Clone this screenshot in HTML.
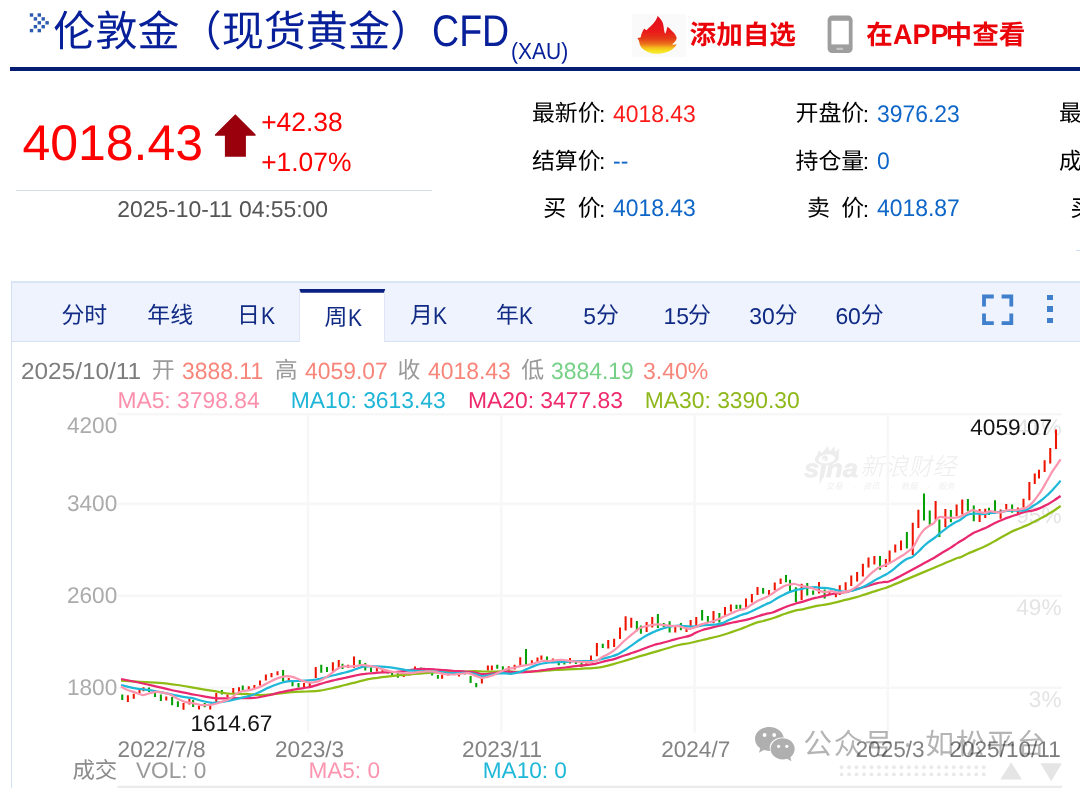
<!DOCTYPE html>
<html lang="zh-CN"><head><meta charset="utf-8"><title>伦敦金（现货黄金）CFD (XAU)</title>
<style>
html,body{margin:0;padding:0;background:#fff;}
body{width:1080px;height:788px;position:relative;overflow:hidden;font-family:"Liberation Sans",sans-serif;text-rendering:geometricPrecision;}
.c,.t,.b,.k{position:absolute;display:block;}
.h{position:absolute;left:0;top:-0.05em;white-space:nowrap;line-height:1.2;font-family:"Liberation Sans","Noto Sans CJK SC",sans-serif;}
.hb{font-weight:bold;}
.hl{font-weight:300;transform:skewX(-14deg);transform-origin:0 75%;}
.hs{transform:skewX(-14deg);transform-origin:0 75%;}
.c{overflow:visible;}
.t{line-height:1;white-space:nowrap;}
.g{opacity:.999;}
.b{margin:0;padding:0;}
</style></head><body>
<svg class="c" style="left:29px;top:12px" width="22" height="22" fill="#2c5bb0"><rect x="0.8" y="1.3" width="3.4" height="3.4"/><rect x="8.6" y="1.3" width="3.4" height="3.4"/><rect x="4.7" y="5.2" width="3.4" height="3.4"/><rect x="12.5" y="5.2" width="3.4" height="3.4"/><rect x="8.6" y="9.1" width="3.4" height="3.4"/><rect x="16.4" y="9.1" width="3.4" height="3.4"/><rect x="4.7" y="13.0" width="3.4" height="3.4"/><rect x="12.5" y="13.0" width="3.4" height="3.4"/><rect x="0.8" y="16.9" width="3.4" height="3.4"/><rect x="8.6" y="16.9" width="3.4" height="3.4"/></svg>
<span class="k" style="left:53.30px;top:8.81px;width:378.90px;height:50.52px;font-size:42.10px;color:#07209a;"><span class="h">伦敦金（现货黄金）</span></span>
<span class="t" style="top:9.70px;font-size:44.30px;color:#07209a;left:432.20px;transform:scaleX(0.848);transform-origin:0 0;">CFD</span>
<span class="t" style="top:40.39px;font-size:23.40px;color:#07209a;left:511.20px;transform:scaleX(0.897);transform-origin:0 0;">(XAU)</span>
<div class="b" style="left:10.40px;top:67.00px;width:1070.00px;height:3.80px;background:#061d73;"></div>
<div class="b" style="left:632.40px;top:13.50px;width:53.50px;height:43.70px;background:#fafafa;"></div>
<svg class="c" style="left:630px;top:10px" width="60" height="50" viewBox="630 10 60 50">
<defs><linearGradient id="fg" gradientUnits="userSpaceOnUse" x1="0" y1="16" x2="0" y2="54"><stop offset="0" stop-color="#e30f1c"/><stop offset="0.42" stop-color="#ea1a1a"/><stop offset="0.6" stop-color="#e43c18"/><stop offset="0.74" stop-color="#ec761c"/><stop offset="0.83" stop-color="#f5b81d"/><stop offset="0.92" stop-color="#f6e21f"/><stop offset="1" stop-color="#f8ea40"/></linearGradient></defs>
<path fill="url(#fg)" d="M657.6 16 C659.5 17.5 661 19.3 661.7 20.8 C663 23 663.4 25 663.6 26.5 C663.9 29.5 664.3 32.4 665.2 33.8 C666.2 32.5 666.7 29.4 667.4 26.8 C668.8 27.6 670.1 29 671.2 30.3 C673 32 674.8 33.7 675.7 35.4 C676.5 36.6 676.9 37.7 676.6 38.5 C676.3 40 675.4 41.4 674.4 42.3 C673.6 43.2 672.6 44.2 671.9 44.6 C673.6 44.8 675.3 44.6 676.6 44.2 C676 45.8 675 47 673.8 48 C671.8 50 668.8 51.6 665.5 52.5 C663 53.3 660 53.8 657.3 53.8 C654 53.8 650.6 53.1 647.8 51.9 C645.3 50.8 643 49.3 641.4 47.4 C640.3 46.1 639.7 44.5 639.5 43 C639.2 41 638.4 39.3 637.3 37.9 C638.6 37.9 639.8 37.7 640.8 37.3 C640.8 35.7 641.3 34.2 642 32.8 C642.6 31.2 643.4 29.7 644.3 28.4 C645 29 645.8 29.7 646.5 30.3 C647.8 28.7 649.4 27.3 650.9 25.9 C652.6 24.3 654.2 22.7 655.4 20.8 C656.4 19.3 657.2 17.7 657.6 16 Z"/></svg>
<span class="k" style="left:689.60px;top:20.96px;width:106.40px;height:31.92px;font-size:26.60px;color:#ea0308;"><span class="h hb">添加自选</span></span>
<svg class="c" style="left:827px;top:15px" width="27" height="39" viewBox="0 0 27 39"><rect x="0.6" y="0.6" width="25" height="37.4" rx="4.5" fill="#9e9e9e"/><rect x="4.4" y="5.8" width="17.4" height="23.6" fill="#fff"/><rect x="9.2" y="32.7" width="7" height="2.2" rx="1.1" fill="#c6c6c6"/></svg>
<span class="k" style="left:866.30px;top:20.96px;width:26.60px;height:31.92px;font-size:26.60px;color:#ea0308;"><span class="h hb">在</span></span>
<span class="t" style="top:21.16px;font-size:28.40px;color:#ea0308;font-weight:bold;left:892.80px;transform:scaleX(0.953);transform-origin:0 0;">APP</span>
<span class="k" style="left:945.60px;top:20.96px;width:79.80px;height:31.92px;font-size:26.60px;color:#ea0308;"><span class="h hb">中查看</span></span>
<span class="t" style="top:118.27px;font-size:50.00px;color:#ff0000;left:22.40px;">4018.43</span>
<svg class="c" style="left:214px;top:113px" width="44" height="46" viewBox="214 113 44 46"><path fill="#99000c" d="M235.3 114.2L255.6 134.6V135.8H245.9V156.7H224.9V135.8H215V134.6Z"/></svg>
<span class="t" style="top:109.05px;font-size:26.40px;color:#ff0000;left:261.20px;">+42.38</span>
<span class="t" style="top:148.65px;font-size:26.40px;color:#ff0000;left:261.20px;">+1.07%</span>
<div class="b" style="left:16.00px;top:190.10px;width:415.50px;height:1.20px;background:#d3dde8;"></div>
<span class="t" style="top:198.02px;font-size:22.90px;color:#555;left:117.20px;">2025-10-11 04:55:00</span>
<span class="k" style="left:531.90px;top:101.59px;width:68.70px;height:27.48px;font-size:22.90px;color:#000;"><span class="h">最新价</span></span>
<span class="t" style="top:102.82px;font-size:22.90px;color:#000;left:599.10px;">:</span>
<span class="t" style="top:102.58px;font-size:24.00px;color:#ff1a1a;left:613.10px;transform:scaleX(0.955);transform-origin:0 0;">4018.43</span>
<span class="k" style="left:531.90px;top:149.19px;width:68.70px;height:27.48px;font-size:22.90px;color:#000;"><span class="h">结算价</span></span>
<span class="t" style="top:150.42px;font-size:22.90px;color:#000;left:599.10px;">:</span>
<span class="t" style="top:150.18px;font-size:24.00px;color:#0d66c8;left:613.10px;transform:scaleX(0.955);transform-origin:0 0;">--</span>
<span class="k" style="left:531.90px;top:196.39px;width:68.70px;height:27.48px;font-size:22.90px;color:#000;"><span class="h" style="padding-left:0.5em;word-spacing:0.222em;">买 价</span></span>
<span class="t" style="top:197.62px;font-size:22.90px;color:#000;left:599.10px;">:</span>
<span class="t" style="top:197.38px;font-size:24.00px;color:#0d66c8;left:613.10px;transform:scaleX(0.955);transform-origin:0 0;">4018.43</span>
<span class="k" style="left:795.50px;top:101.59px;width:68.70px;height:27.48px;font-size:22.90px;color:#000;"><span class="h">开盘价</span></span>
<span class="t" style="top:102.82px;font-size:22.90px;color:#000;left:862.70px;">:</span>
<span class="t" style="top:102.58px;font-size:24.00px;color:#0d66c8;left:876.70px;transform:scaleX(0.955);transform-origin:0 0;">3976.23</span>
<span class="k" style="left:795.50px;top:149.19px;width:68.70px;height:27.48px;font-size:22.90px;color:#000;"><span class="h">持仓量</span></span>
<span class="t" style="top:150.42px;font-size:22.90px;color:#000;left:862.70px;">:</span>
<span class="t" style="top:150.18px;font-size:24.00px;color:#0d66c8;left:876.70px;transform:scaleX(0.955);transform-origin:0 0;">0</span>
<span class="k" style="left:795.50px;top:196.39px;width:68.70px;height:27.48px;font-size:22.90px;color:#000;"><span class="h" style="padding-left:0.5em;word-spacing:0.222em;">卖 价</span></span>
<span class="t" style="top:197.62px;font-size:22.90px;color:#000;left:862.70px;">:</span>
<span class="t" style="top:197.38px;font-size:24.00px;color:#0d66c8;left:876.70px;transform:scaleX(0.955);transform-origin:0 0;">4018.87</span>
<span class="k" style="left:1059.10px;top:101.59px;width:68.70px;height:27.48px;font-size:22.90px;color:#000;"><span class="h">最高价</span></span>
<span class="t" style="top:102.82px;font-size:22.90px;color:#000;left:1126.30px;">:</span>
<span class="t" style="top:102.58px;font-size:24.00px;color:#0d66c8;left:1140.30px;transform:scaleX(0.955);transform-origin:0 0;">4059.07</span>
<span class="k" style="left:1059.10px;top:149.19px;width:68.70px;height:27.48px;font-size:22.90px;color:#000;"><span class="h">成交量</span></span>
<span class="t" style="top:150.42px;font-size:22.90px;color:#000;left:1126.30px;">:</span>
<span class="t" style="top:150.18px;font-size:24.00px;color:#0d66c8;left:1140.30px;transform:scaleX(0.955);transform-origin:0 0;">0</span>
<span class="k" style="left:1059.10px;top:196.39px;width:68.70px;height:27.48px;font-size:22.90px;color:#000;"><span class="h" style="padding-left:0.5em;word-spacing:0.222em;">买 量</span></span>
<span class="t" style="top:197.62px;font-size:22.90px;color:#000;left:1126.30px;">:</span>
<span class="t" style="top:197.38px;font-size:24.00px;color:#0d66c8;left:1140.30px;transform:scaleX(0.955);transform-origin:0 0;">0</span>
<div class="b" style="left:1076.00px;top:249.60px;width:4.00px;height:1.20px;background:#c9dcf0;"></div>
<div class="b" style="left:10.70px;top:280.90px;width:1070.00px;height:1.70px;background:#d9e4f5;"></div>
<div class="b" style="left:10.70px;top:280.90px;width:1.70px;height:520.00px;background:#d2e0f4;"></div>
<div class="b" style="left:12.40px;top:282.60px;width:1068.00px;height:58.20px;background:#eef3fd;"></div>
<div class="b" style="left:12.40px;top:340.50px;width:1068.00px;height:1.50px;background:#d6e1f4;"></div>
<div class="b" style="left:299.40px;top:289.00px;width:85.80px;height:53.00px;background:#fff;border-left:1.3px solid #dfe6f6;border-right:1.3px solid #dfe6f6;box-sizing:border-box;"></div>
<svg class="c" style="left:299px;top:288px" width="88" height="6" viewBox="299 288 88 6"><path fill="#0a2182" d="M299.4 289H385.2L383.9 292.8H300.7Z"/></svg>
<span class="k" style="left:61.40px;top:303.59px;width:45.80px;height:27.48px;font-size:22.90px;color:#112b85;"><span class="h">分时</span></span>
<span class="k" style="left:147.30px;top:303.59px;width:45.80px;height:27.48px;font-size:22.90px;color:#112b85;"><span class="h">年线</span></span>
<span class="k" style="left:237.00px;top:303.59px;width:22.90px;height:27.48px;font-size:22.90px;color:#112b85;"><span class="h">日</span></span>
<span class="t" style="top:304.85px;font-size:24.40px;color:#112b85;left:260.70px;transform:scaleX(0.863);transform-origin:0 0;">K</span>
<span class="k" style="left:324.40px;top:305.59px;width:22.90px;height:27.48px;font-size:22.90px;color:#112b85;"><span class="h">周</span></span>
<span class="t" style="top:306.85px;font-size:24.40px;color:#112b85;left:347.50px;transform:scaleX(0.863);transform-origin:0 0;">K</span>
<span class="k" style="left:410.00px;top:303.59px;width:22.90px;height:27.48px;font-size:22.90px;color:#112b85;"><span class="h">月</span></span>
<span class="t" style="top:304.85px;font-size:24.40px;color:#112b85;left:433.30px;transform:scaleX(0.863);transform-origin:0 0;">K</span>
<span class="k" style="left:495.90px;top:303.59px;width:22.90px;height:27.48px;font-size:22.90px;color:#112b85;"><span class="h">年</span></span>
<span class="t" style="top:304.85px;font-size:24.40px;color:#112b85;left:519.20px;transform:scaleX(0.863);transform-origin:0 0;">K</span>
<span class="t" style="top:304.82px;font-size:22.90px;color:#112b85;left:583.20px;">5</span>
<span class="k" style="left:595.90px;top:303.59px;width:22.90px;height:27.48px;font-size:22.90px;color:#112b85;"><span class="h">分</span></span>
<span class="t" style="top:304.82px;font-size:22.90px;color:#112b85;left:663.60px;">15</span>
<span class="k" style="left:688.00px;top:303.59px;width:22.90px;height:27.48px;font-size:22.90px;color:#112b85;"><span class="h">分</span></span>
<span class="t" style="top:304.82px;font-size:22.90px;color:#112b85;left:749.30px;">30</span>
<span class="k" style="left:774.70px;top:303.59px;width:22.90px;height:27.48px;font-size:22.90px;color:#112b85;"><span class="h">分</span></span>
<span class="t" style="top:304.82px;font-size:22.90px;color:#112b85;left:835.40px;">60</span>
<span class="k" style="left:860.80px;top:303.59px;width:22.90px;height:27.48px;font-size:22.90px;color:#112b85;"><span class="h">分</span></span>
<svg class="c" style="left:980px;top:292px" width="36" height="36" viewBox="980 292 36 36" fill="none" stroke="#3f7fcc" stroke-width="3.8"><path d="M984 306.4V296.5H993.8M1001.6 296.5H1011.3V306.4M1011.3 313.4V323.2H1001.6M993.8 323.2H984V313.4"/></svg>
<div class="b" style="left:1047.30px;top:294.60px;width:6.10px;height:5.40px;background:#3f7fcc;"></div>
<div class="b" style="left:1047.30px;top:306.30px;width:6.10px;height:5.40px;background:#3f7fcc;"></div>
<div class="b" style="left:1047.30px;top:317.70px;width:6.10px;height:5.40px;background:#3f7fcc;"></div>
<span class="t" style="top:359.99px;font-size:23.40px;color:#7d7d7d;left:21.30px;transform:scaleX(1.042);transform-origin:0 0;">2025/10/11</span>
<span class="k" style="left:151.80px;top:358.39px;width:22.90px;height:27.48px;font-size:22.90px;color:#9a9a9a;"><span class="h">开</span></span>
<span class="t" style="top:359.91px;font-size:23.50px;color:#f8857a;left:182.40px;transform:scaleX(0.975);transform-origin:0 0;">3888.11</span>
<span class="k" style="left:274.80px;top:358.39px;width:22.90px;height:27.48px;font-size:22.90px;color:#9a9a9a;"><span class="h">高</span></span>
<span class="t" style="top:359.91px;font-size:23.50px;color:#f8857a;left:305.00px;transform:scaleX(0.975);transform-origin:0 0;">4059.07</span>
<span class="k" style="left:397.60px;top:358.39px;width:22.90px;height:27.48px;font-size:22.90px;color:#9a9a9a;"><span class="h">收</span></span>
<span class="t" style="top:359.91px;font-size:23.50px;color:#f8857a;left:427.80px;transform:scaleX(0.975);transform-origin:0 0;">4018.43</span>
<span class="k" style="left:521.20px;top:358.39px;width:22.90px;height:27.48px;font-size:22.90px;color:#9a9a9a;"><span class="h">低</span></span>
<span class="t" style="top:359.91px;font-size:23.50px;color:#76d086;left:551.20px;transform:scaleX(0.975);transform-origin:0 0;">3884.19</span>
<span class="t" style="top:359.99px;font-size:23.40px;color:#f8857a;left:642.80px;transform:scaleX(0.985);transform-origin:0 0;">3.40%</span>
<span class="t g" style="top:389.16px;font-size:22.85px;color:#fc8fab;left:117.40px;">MA5: 3798.84</span>
<span class="t g" style="top:389.16px;font-size:22.85px;color:#1fb5d6;left:290.80px;">MA10: 3613.43</span>
<span class="t g" style="top:389.16px;font-size:22.85px;color:#ee2a6b;left:468.00px;">MA20: 3477.83</span>
<span class="t g" style="top:389.16px;font-size:22.85px;color:#8fb81c;left:644.80px;">MA30: 3390.30</span>
<span class="t g" style="top:417.27px;font-size:22.60px;color:#e4e4e4;right:18.50px;">141%</span>
<span class="t g" style="top:505.27px;font-size:22.60px;color:#e4e4e4;right:18.50px;">95%</span>
<span class="t g" style="top:597.27px;font-size:22.60px;color:#e4e4e4;right:18.50px;">49%</span>
<span class="t g" style="top:689.07px;font-size:22.60px;color:#e4e4e4;right:18.50px;">3%</span>
<svg class="c" style="left:800px;top:440px" width="64" height="50" viewBox="800 440 64 50" fill="#ededed"><path d="M816 457.5L818.9 450.2L821.9 453.2L827.8 446L829.8 451.4L834.4 446.3L835 452L839.5 448.6L838.4 457Z"/><ellipse cx="826.9" cy="458.5" rx="12.1" ry="6.8" transform="rotate(-7 826.9 458.5)"/><ellipse cx="826.7" cy="458.9" rx="8.4" ry="4.5" transform="rotate(-7 826.7 458.9)" fill="#fff"/><circle cx="824.9" cy="458.4" r="2.9"/><circle cx="823.7" cy="459.7" r="1.1" fill="#fff"/></svg>
<span class="t g" style="top:457.24px;font-size:25.00px;color:#ededed;font-weight:bold;left:804.20px;transform:scaleX(1.1);transform-origin:0 0;font-style:italic;-webkit-text-stroke:0.6px #ededed;">s</span>
<svg class="c" style="left:815px;top:462px" width="14" height="24" viewBox="815 462 14 24" fill="#ededed"><path d="M821.2 465H826.6L824 476.5L819.3 484.8L819.8 475Z"/></svg>
<span class="t g" style="top:457.24px;font-size:25.00px;color:#ededed;font-weight:bold;left:826.00px;transform:scaleX(1.1);transform-origin:0 0;font-style:italic;-webkit-text-stroke:0.6px #ededed;">na</span>
<span class="k" style="left:860.20px;top:455.20px;width:96.00px;height:28.80px;font-size:24.00px;color:#ededed;"><span class="h hl">新浪财经</span></span>
<span class="k" style="left:826.00px;top:482.62px;width:16.40px;height:9.84px;font-size:8.20px;color:#efefef;"><span class="h hs">交易</span></span>
<span class="k" style="left:863.00px;top:482.62px;width:16.40px;height:9.84px;font-size:8.20px;color:#efefef;"><span class="h hs">资讯</span></span>
<span class="k" style="left:900.50px;top:482.62px;width:16.40px;height:9.84px;font-size:8.20px;color:#efefef;"><span class="h hs">数据</span></span>
<span class="k" style="left:937.50px;top:482.62px;width:16.40px;height:9.84px;font-size:8.20px;color:#efefef;"><span class="h hs">服务</span></span>
<div class="b" style="left:853.50px;top:486.60px;width:1.30px;height:1.30px;background:#efefef;border-radius:1px;"></div>
<div class="b" style="left:890.50px;top:486.60px;width:1.30px;height:1.30px;background:#efefef;border-radius:1px;"></div>
<div class="b" style="left:928.00px;top:486.60px;width:1.30px;height:1.30px;background:#efefef;border-radius:1px;"></div>
<svg class="c" style="left:752px;top:724px" width="48" height="40" viewBox="752 724 48 40"><g transform="translate(0 -36.35) scale(1 1.05)"><path fill="#afafaf" d="M769.4 727C761.4 727 755 732 755 738.4C755 742 757 745.2 760.2 747.3L759 751.6L763.8 749C765.5 749.5 767.4 749.8 769.4 749.8C769.7 749.8 770 749.8 770.3 749.8C769.9 748.8 769.7 747.7 769.7 746.6C769.7 741.2 775.2 736.9 782 736.9C782.6 736.9 783.2 736.9 783.7 737C782.7 731.3 776.7 727 769.4 727Z"/><path fill="#afafaf" d="M782.6 737.7C776 737.7 770.6 742.2 770.6 747.8C770.6 753.4 776 757.9 782.6 757.9C784.2 757.9 785.7 757.6 787.1 757.2L791.4 759.6L790.4 755.8C793 754 794.7 751.1 794.7 747.8C794.7 742.2 789.3 737.7 782.6 737.7Z"/><g fill="#fff"><circle cx="764.6" cy="734.6" r="1.9"/><circle cx="774.2" cy="734.6" r="1.9"/><circle cx="778.6" cy="745.4" r="1.6"/><circle cx="786.8" cy="745.4" r="1.6"/></g></g></svg>
<svg class="c" style="left:0;top:0" width="1080" height="788" viewBox="0 0 1080 788" fill="#e9e9e9"><circle cx="841.60" cy="767.2" r="1.9"/><circle cx="841.60" cy="774.4" r="1.9"/><circle cx="849.08" cy="767.2" r="1.9"/><circle cx="849.08" cy="774.4" r="1.9"/><circle cx="856.56" cy="767.2" r="1.9"/><circle cx="856.56" cy="774.4" r="1.9"/><circle cx="864.04" cy="767.2" r="1.9"/><circle cx="864.04" cy="774.4" r="1.9"/><circle cx="871.52" cy="767.2" r="1.9"/><circle cx="871.52" cy="774.4" r="1.9"/><circle cx="879.00" cy="767.2" r="1.9"/><circle cx="879.00" cy="774.4" r="1.9"/><circle cx="886.48" cy="767.2" r="1.9"/><circle cx="886.48" cy="774.4" r="1.9"/><circle cx="893.96" cy="767.2" r="1.9"/><circle cx="893.96" cy="774.4" r="1.9"/><circle cx="901.44" cy="767.2" r="1.9"/><circle cx="901.44" cy="774.4" r="1.9"/><circle cx="908.92" cy="767.2" r="1.9"/><circle cx="908.92" cy="774.4" r="1.9"/><circle cx="916.40" cy="767.2" r="1.9"/><circle cx="916.40" cy="774.4" r="1.9"/><circle cx="923.88" cy="767.2" r="1.9"/><circle cx="923.88" cy="774.4" r="1.9"/><circle cx="931.36" cy="767.2" r="1.9"/><circle cx="931.36" cy="774.4" r="1.9"/><circle cx="938.84" cy="767.2" r="1.9"/><circle cx="938.84" cy="774.4" r="1.9"/><circle cx="946.32" cy="767.2" r="1.9"/><circle cx="946.32" cy="774.4" r="1.9"/><circle cx="953.80" cy="767.2" r="1.9"/><circle cx="953.80" cy="774.4" r="1.9"/><circle cx="961.28" cy="767.2" r="1.9"/><circle cx="961.28" cy="774.4" r="1.9"/><circle cx="968.76" cy="767.2" r="1.9"/><circle cx="968.76" cy="774.4" r="1.9"/><circle cx="976.24" cy="767.2" r="1.9"/><circle cx="976.24" cy="774.4" r="1.9"/><circle cx="983.72" cy="767.2" r="1.9"/><circle cx="983.72" cy="774.4" r="1.9"/><path fill="#e5e5e5" d="M1011.2 762.2L1021.9 779.6H1000.4Z M1040.4 763.2H1062L1051.2 781.2Z"/></svg>
<svg class="c" style="left:0;top:0" width="1080" height="788" viewBox="0 0 1080 788"><path d="M117.4 414.2H1062M117.4 503.9H1062M117.4 595.8H1062M117.4 687.7H1062M308.0 414V732.6M501.2 414V732.6M694.6 414V732.6M887.8 414V732.6" stroke="#f7f7f7" stroke-width="2.6" fill="none"/><rect x="117.4" y="785.7" width="944.6" height="2.4" fill="#ebebeb"/><path d="M127.88 695.2V701.9M133.75 693.8V698.8M139.50 689.8V693.1M143.50 687.2V691.2M166.25 696.5V700.6M183.50 703.1V709.8M189.38 698.8V704.4M199.00 705.6V709.4M210.25 705.6V709.4M216.25 693.1V701.9M227.50 694.4V696.9M233.25 688.1V693.1M239.00 687.2V691.9M248.75 686.2V689.4M254.38 685.0V688.5M260.00 680.6V685.6M265.88 674.6V680.6M271.50 672.9V677.2M277.50 671.2V675.2M288.75 678.1V681.0M304.00 683.1V687.5M309.75 682.5V686.5M315.75 666.9V678.1M332.88 662.2V671.0M338.75 660.0V667.5M348.12 664.8V668.1M354.00 656.5V668.1M376.88 668.1V671.5M382.50 669.4V671.9M403.75 674.4V676.9M409.38 673.5V675.6M415.00 666.6V669.8M442.12 674.8V678.8M448.25 673.1V675.6M453.75 671.9V674.4M459.00 674.4V676.5M481.88 678.8V683.5M487.88 665.6V670.6M491.88 665.6V670.2M508.75 666.2V671.2M514.62 664.8V669.4M520.25 657.2V665.6M531.88 660.2V664.4M537.50 657.5V661.9M541.38 655.6V659.8M552.88 658.4V661.9M570.00 658.1V663.5M586.38 661.2V663.8M591.00 655.6V660.6M596.88 643.1V656.2M608.25 640.0V648.5M614.12 638.8V646.9M620.00 627.5V639.0M625.62 616.2V630.6M631.25 617.8V627.8M646.62 621.9V631.9M652.25 616.9V627.5M675.25 626.2V632.5M686.50 627.5V631.9M690.62 620.0V626.2M696.25 616.9V625.6M713.50 611.0V623.1M725.00 606.9V616.2M730.88 604.4V611.5M746.00 598.4V608.1M751.88 594.0V602.5M757.50 586.9V595.0M769.00 590.0V595.0M774.75 582.5V590.2M780.62 578.5V584.0M801.62 583.8V600.2M819.00 581.9V593.5M829.50 591.5V594.8M835.88 591.9V597.2M839.75 585.2V595.0M845.62 582.2V590.2M851.25 575.4V586.0M857.12 572.1V581.5M862.88 563.8V576.5M868.50 557.5V567.5M874.38 556.0V564.4M885.88 559.0V566.9M889.62 550.6V562.8M895.25 544.4V552.5M901.00 540.6V550.2M912.75 522.8V555.0M918.38 509.8V528.1M935.62 501.0V519.8M945.38 509.0V527.2M956.62 504.4V516.2M962.25 499.6V514.4M979.62 509.0V521.9M985.25 508.8V517.9M1000.62 509.4V518.8M1006.25 504.1V509.4M1017.88 507.5V513.5M1023.50 498.8V507.5M1029.38 482.1V500.2M1034.75 473.5V484.0M1039.00 469.8V478.5M1044.62 460.2V471.9M1050.25 448.1V463.5M1056.00 429.4V449.0" stroke="#ee1500" stroke-width="2.05" fill="none"/><path d="M122.25 694.4V700.0M149.00 687.5V691.9M155.00 693.1V696.9M160.88 694.4V701.0M172.12 696.9V705.2M177.88 701.2V706.9M193.12 700.0V706.9M204.75 703.1V707.2M221.88 690.0V694.4M242.75 685.6V690.2M283.12 670.0V681.5M292.50 680.6V686.2M298.50 683.1V687.5M321.25 664.8V672.8M327.00 666.9V671.9M342.50 663.8V669.0M359.75 660.0V664.8M365.25 663.1V670.6M371.00 667.5V671.9M388.12 670.6V673.5M392.12 672.5V675.0M397.88 673.1V677.8M420.88 667.5V670.0M426.12 671.2V673.8M432.12 673.1V675.6M437.88 675.0V678.8M464.75 671.9V674.4M470.62 676.0V683.1M476.25 683.1V687.2M497.25 664.8V668.8M502.88 666.2V670.0M526.00 649.0V664.8M547.00 656.5V662.2M558.75 659.8V665.2M564.38 661.2V664.4M575.88 661.9V664.0M581.50 663.1V666.9M602.75 643.8V648.1M636.88 621.0V631.2M640.88 625.6V633.8M657.88 614.0V627.9M663.75 623.1V626.9M669.62 621.2V632.5M680.88 623.1V630.2M702.12 610.0V620.6M707.88 616.0V621.9M719.38 613.1V622.5M736.50 604.8V609.0M740.25 604.8V610.0M763.12 588.1V593.8M786.00 575.0V582.2M790.00 579.8V591.0M795.88 587.2V601.9M807.25 583.1V595.6M813.12 590.6V594.8M824.62 589.4V598.5M880.00 556.0V569.8M906.88 531.9V548.5M924.00 493.5V520.6M929.75 510.4V524.8M939.38 519.4V536.9M950.88 510.0V522.2M967.88 499.0V511.2M973.75 505.6V521.2M989.00 507.8V515.0M995.00 500.2V511.0M1012.12 504.6V512.8" stroke="#04a004" stroke-width="2.05" fill="none"/><path d="M121.0 680.6C124.2 680.8 133.7 681.5 140.0 681.9C146.3 682.2 152.5 682.2 158.8 682.8C165.0 683.3 171.2 684.1 177.5 685.0C183.8 685.9 190.0 687.1 196.2 688.1C202.5 689.2 209.8 690.4 215.0 691.2C220.2 692.1 223.3 693.0 227.5 693.5C231.7 694.0 236.5 693.9 240.0 694.0C243.5 694.1 245.8 693.8 248.8 694.0C251.7 694.2 254.0 694.9 257.5 695.0C261.0 695.1 265.8 694.7 270.0 694.4C274.2 694.1 278.3 693.5 282.5 693.1C286.7 692.7 290.8 692.1 295.0 691.9C299.2 691.6 303.3 691.7 307.5 691.5C311.7 691.3 315.8 691.2 320.0 690.6C324.2 690.1 328.3 689.1 332.5 688.1C336.7 687.2 340.8 686.0 345.0 685.0C349.2 684.0 353.3 682.9 357.5 681.9C361.7 680.8 366.7 679.4 370.0 678.8C373.3 678.1 375.0 678.1 377.5 677.8C380.0 677.4 382.1 677.2 385.0 676.9C387.9 676.5 391.7 676.0 395.0 675.6C398.3 675.3 401.7 675.0 405.0 674.8C408.3 674.5 411.7 674.3 415.0 674.0C418.3 673.7 421.7 673.4 425.0 673.1C428.3 672.9 431.7 672.6 435.0 672.5C438.3 672.4 441.7 672.4 445.0 672.2C448.3 672.1 451.7 672.0 455.0 671.9C458.3 671.8 461.7 671.6 465.0 671.5C468.3 671.4 471.7 671.0 475.0 671.0C478.3 671.0 481.7 671.4 485.0 671.5C488.3 671.6 491.4 671.5 495.0 671.5C498.6 671.5 503.1 671.2 506.9 671.3C510.6 671.4 513.6 671.8 517.5 671.9C521.4 671.9 525.8 671.6 530.0 671.5C534.2 671.4 538.3 671.2 542.5 671.0C546.7 670.8 550.8 670.3 555.0 670.0C559.2 669.7 563.3 669.6 567.5 669.4C571.7 669.2 575.8 669.0 580.0 668.8C584.2 668.5 588.8 668.4 592.5 668.1C596.2 667.8 599.2 667.5 602.5 666.9C605.8 666.2 609.2 665.3 612.5 664.4C615.8 663.5 619.2 662.5 622.5 661.5C625.8 660.5 629.6 659.4 632.5 658.5C635.4 657.6 635.4 657.6 640.0 656.2C644.6 654.9 653.5 652.2 660.0 650.4C666.5 648.5 674.2 646.1 678.8 645.0C683.3 643.9 684.4 644.1 687.5 643.5C690.6 642.9 694.2 642.0 697.5 641.2C700.8 640.5 704.2 639.5 707.5 638.8C710.8 638.0 714.2 637.4 717.5 636.5C720.8 635.6 724.2 634.6 727.5 633.5C730.8 632.4 734.2 631.2 737.5 630.0C740.8 628.8 744.6 627.4 747.5 626.2C750.4 625.1 752.2 624.1 755.0 623.1C757.8 622.2 761.0 621.6 764.4 620.7C767.7 619.8 771.6 618.7 775.0 617.5C778.4 616.3 781.7 614.9 785.0 613.8C788.3 612.6 792.1 611.4 795.0 610.6C797.9 609.9 799.6 610.0 802.5 609.4C805.4 608.8 809.2 607.6 812.5 606.9C815.8 606.1 819.2 605.6 822.5 605.0C825.8 604.4 829.2 603.9 832.5 603.1C835.8 602.4 839.2 601.5 842.5 600.6C845.8 599.8 849.2 599.0 852.5 598.1C855.8 597.2 859.2 596.3 862.5 595.2C865.8 594.2 869.2 593.0 872.5 591.9C875.8 590.8 879.2 589.9 882.5 588.8C885.8 587.6 880.8 590.0 892.5 585.2C904.2 580.5 941.2 564.6 952.5 560.0C963.8 555.4 957.5 558.5 960.0 557.5C962.5 556.5 965.0 554.9 967.5 553.8C970.0 552.6 972.5 551.7 975.0 550.6C977.5 549.6 980.0 548.6 982.5 547.5C985.0 546.4 987.5 545.1 990.0 543.8C992.5 542.4 995.0 540.8 997.5 539.4C1000.0 538.0 1002.9 536.4 1005.0 535.2C1007.1 534.1 1008.0 533.5 1010.0 532.5C1012.0 531.5 1014.2 530.5 1016.9 529.4C1019.6 528.2 1023.4 526.9 1026.2 525.6C1029.1 524.4 1031.2 523.1 1033.8 521.9C1036.2 520.6 1038.8 519.5 1041.2 518.1C1043.8 516.8 1046.5 515.1 1048.8 513.8C1051.0 512.4 1053.0 511.3 1055.0 510.0C1057.0 508.7 1059.7 506.7 1060.6 506.0" stroke="#8fbc14" stroke-width="2.25" fill="none" stroke-linejoin="round" stroke-linecap="butt"/><path d="M121.0 679.0C123.1 679.4 128.5 680.4 133.8 681.5C139.0 682.6 146.2 684.2 152.5 685.6C158.8 687.0 165.0 688.6 171.2 690.0C177.5 691.4 184.8 692.7 190.0 693.8C195.2 694.8 198.3 695.5 202.5 696.2C206.7 697.0 211.2 697.8 215.0 698.1C218.8 698.5 221.9 698.4 225.0 698.4C228.1 698.4 230.8 698.3 233.8 698.2C236.7 698.2 240.0 698.1 242.5 698.1C245.0 698.1 246.2 698.2 248.8 698.1C251.2 698.0 254.0 698.0 257.5 697.5C261.0 697.0 265.8 695.9 270.0 695.0C274.2 694.1 278.3 692.8 282.5 691.9C286.7 690.9 290.8 690.1 295.0 689.4C299.2 688.6 304.2 688.1 307.5 687.5C310.8 686.9 312.1 686.5 315.0 685.6C317.9 684.8 321.7 683.4 325.0 682.5C328.3 681.6 331.7 680.8 335.0 680.0C338.3 679.2 341.7 678.6 345.0 677.9C348.3 677.1 351.7 676.3 355.0 675.6C358.3 674.9 361.5 674.2 365.0 673.8C368.5 673.3 373.3 673.1 376.2 672.9C379.2 672.7 380.2 672.6 382.5 672.5C384.8 672.4 387.1 672.4 390.0 672.2C392.9 672.1 396.7 671.8 400.0 671.5C403.3 671.2 407.1 670.7 410.0 670.2C412.9 669.8 415.0 669.2 417.5 669.0C420.0 668.8 422.1 668.7 425.0 668.8C427.9 668.8 431.7 669.1 435.0 669.4C438.3 669.6 441.7 670.0 445.0 670.2C448.3 670.5 451.7 670.8 455.0 671.0C458.3 671.2 462.1 671.3 465.0 671.5C467.9 671.7 470.0 671.9 472.5 672.2C475.0 672.6 477.5 673.5 480.0 673.8C482.5 674.0 485.0 674.1 487.5 674.0C490.0 673.9 492.5 673.5 495.0 673.1C497.5 672.8 500.2 672.1 502.5 671.9C504.8 671.6 506.7 671.7 508.8 671.8C510.8 671.8 512.3 672.2 515.0 672.2C517.7 672.3 521.7 672.4 525.0 672.2C528.3 672.1 531.7 671.7 535.0 671.2C538.3 670.8 541.7 670.2 545.0 669.8C548.3 669.3 551.7 668.9 555.0 668.5C558.3 668.1 561.7 667.9 565.0 667.5C568.3 667.1 571.7 666.6 575.0 666.2C578.3 665.9 581.7 665.7 585.0 665.2C588.3 664.8 591.7 664.4 595.0 663.8C598.3 663.1 601.7 662.1 605.0 661.2C608.3 660.4 611.7 659.8 615.0 658.8C618.3 657.8 622.1 656.2 625.0 655.2C627.9 654.2 630.0 653.6 632.5 652.8C635.0 651.9 636.5 651.5 640.0 650.2C643.5 649.0 650.4 646.1 653.8 645.0C657.1 643.9 657.7 644.1 660.0 643.5C662.3 642.9 665.0 642.2 667.5 641.5C670.0 640.8 672.5 640.0 675.0 639.4C677.5 638.7 680.0 638.1 682.5 637.5C685.0 636.9 687.9 636.4 690.0 635.6C692.1 634.9 692.9 634.1 695.0 633.1C697.1 632.2 700.0 630.8 702.5 630.0C705.0 629.2 707.5 628.8 710.0 628.1C712.5 627.5 715.0 626.9 717.5 626.2C720.0 625.6 722.5 625.0 725.0 624.4C727.5 623.8 730.0 623.1 732.5 622.5C735.0 621.9 737.9 621.4 740.0 621.0C742.1 620.6 742.9 620.7 745.0 620.2C747.1 619.8 750.0 618.9 752.5 618.1C755.0 617.4 757.8 616.3 760.0 615.6C762.2 614.9 763.5 614.6 765.6 614.1C767.7 613.5 770.1 613.3 772.5 612.5C774.9 611.7 777.5 610.4 780.0 609.4C782.5 608.3 785.0 607.2 787.5 606.2C790.0 605.3 792.5 604.5 795.0 603.8C797.5 603.0 800.0 602.6 802.5 601.9C805.0 601.1 807.5 600.1 810.0 599.4C812.5 598.6 815.0 598.1 817.5 597.5C820.0 596.9 822.5 596.2 825.0 595.6C827.5 595.0 830.0 594.5 832.5 594.0C835.0 593.5 837.5 593.1 840.0 592.8C842.5 592.4 845.0 592.4 847.5 591.9C850.0 591.3 852.5 590.1 855.0 589.4C857.5 588.6 860.0 588.2 862.5 587.5C865.0 586.8 867.5 586.0 870.0 585.2C872.5 584.5 875.0 583.7 877.5 583.1C880.0 582.6 882.5 582.4 885.0 581.9C887.5 581.4 885.0 583.6 892.5 580.0C900.0 576.4 922.7 563.9 930.0 560.0C937.3 556.1 934.2 557.8 936.2 556.5C938.3 555.2 940.2 553.9 942.5 552.5C944.8 551.1 947.5 549.7 950.0 548.1C952.5 546.6 955.0 544.7 957.5 543.1C960.0 541.5 962.5 540.1 965.0 538.5C967.5 536.9 970.0 534.9 972.5 533.5C975.0 532.1 977.5 531.4 980.0 530.2C982.5 529.1 985.0 528.1 987.5 526.9C990.0 525.7 992.5 524.3 995.0 523.1C997.5 521.9 1000.0 520.8 1002.5 519.8C1005.0 518.7 1007.6 517.7 1010.0 516.9C1012.4 516.0 1014.4 515.4 1016.9 514.6C1019.4 513.7 1022.4 512.5 1025.0 511.9C1027.6 511.2 1030.0 511.2 1032.5 510.6C1035.0 510.0 1037.5 509.2 1040.0 508.1C1042.5 507.1 1045.2 505.6 1047.5 504.4C1049.8 503.1 1051.6 502.0 1053.8 500.6C1055.9 499.2 1059.5 496.8 1060.6 496.0" stroke="#e9286f" stroke-width="2.25" fill="none" stroke-linejoin="round" stroke-linecap="butt"/><path d="M121.0 685.0C123.1 685.5 128.5 687.2 133.8 688.1C139.0 689.1 147.3 689.8 152.5 690.6C157.7 691.5 160.8 692.3 165.0 693.1C169.2 694.0 174.2 694.9 177.5 695.6C180.8 696.3 182.5 696.8 185.0 697.2C187.5 697.7 189.6 697.5 192.5 698.1C195.4 698.8 199.2 700.2 202.5 701.0C205.8 701.8 209.2 702.6 212.5 702.8C215.8 702.9 219.2 702.3 222.5 701.9C225.8 701.4 229.6 700.6 232.5 700.0C235.4 699.4 237.0 698.9 240.0 698.1C243.0 697.4 247.3 696.7 250.6 695.6C254.0 694.6 257.2 693.1 260.0 691.9C262.8 690.6 265.0 689.3 267.5 688.1C270.0 687.0 272.5 685.9 275.0 685.0C277.5 684.1 280.0 683.1 282.5 682.5C285.0 681.9 287.5 681.5 290.0 681.2C292.5 681.0 295.0 681.1 297.5 681.0C300.0 680.9 302.5 680.8 305.0 680.6C307.5 680.5 310.0 680.3 312.5 680.0C315.0 679.7 317.5 679.3 320.0 678.8C322.5 678.2 325.0 677.5 327.5 676.9C330.0 676.2 332.5 675.6 335.0 675.0C337.5 674.4 340.0 673.8 342.5 673.1C345.0 672.5 347.7 671.9 350.0 671.2C352.3 670.6 354.2 669.7 356.2 669.0C358.3 668.3 360.4 667.3 362.5 666.9C364.6 666.4 366.5 666.3 368.8 666.2C371.0 666.2 373.5 666.3 376.2 666.4C379.0 666.5 381.9 666.6 385.0 666.9C388.1 667.2 391.7 667.6 395.0 668.1C398.3 668.6 402.1 669.3 405.0 669.8C407.9 670.2 410.0 670.4 412.5 670.6C415.0 670.8 417.5 670.9 420.0 671.0C422.5 671.1 424.6 671.1 427.5 671.2C430.4 671.4 434.2 671.6 437.5 671.9C440.8 672.1 444.2 672.5 447.5 672.8C450.8 673.0 454.2 673.1 457.5 673.1C460.8 673.1 464.6 672.6 467.5 672.8C470.4 672.9 472.7 673.5 475.0 674.0C477.3 674.5 479.2 675.7 481.2 676.0C483.3 676.3 485.2 676.0 487.5 675.6C489.8 675.3 492.5 674.4 495.0 674.0C497.5 673.6 499.9 673.2 502.5 673.1C505.1 673.1 507.7 674.0 510.6 673.8C513.5 673.5 517.2 672.7 520.0 671.9C522.8 671.0 525.0 669.8 527.5 668.8C530.0 667.7 532.5 666.5 535.0 665.6C537.5 664.8 540.0 664.0 542.5 663.5C545.0 663.0 547.5 662.7 550.0 662.5C552.5 662.3 555.0 662.4 557.5 662.2C560.0 662.1 562.5 662.0 565.0 661.9C567.5 661.7 570.0 661.4 572.5 661.2C575.0 661.1 577.5 661.2 580.0 661.2C582.5 661.2 585.0 661.3 587.5 661.2C590.0 661.2 592.5 661.4 595.0 661.0C597.5 660.6 600.0 659.4 602.5 658.8C605.0 658.1 607.5 657.6 610.0 656.9C612.5 656.1 615.0 655.5 617.5 654.4C620.0 653.2 622.2 651.8 625.0 650.0C627.8 648.2 631.7 645.2 634.4 643.4C637.1 641.5 639.1 640.1 641.2 638.8C643.4 637.4 645.4 636.1 647.5 635.0C649.6 633.9 651.7 632.8 653.8 631.9C655.8 630.9 657.9 630.1 660.0 629.4C662.1 628.6 664.2 628.0 666.2 627.5C668.3 627.0 670.4 626.6 672.5 626.2C674.6 625.9 676.7 625.6 678.8 625.6C680.8 625.6 682.9 626.1 685.0 626.2C687.1 626.4 689.2 626.5 691.2 626.5C693.3 626.5 695.4 626.5 697.5 626.2C699.6 626.0 701.7 625.5 703.8 625.2C705.8 625.0 707.9 624.9 710.0 624.8C712.1 624.6 714.2 624.6 716.2 624.4C718.3 624.1 720.4 623.9 722.5 623.1C724.6 622.4 726.7 620.9 728.8 620.0C730.8 619.1 732.9 618.3 735.0 617.5C737.1 616.7 739.2 615.7 741.2 615.0C743.3 614.3 745.4 613.9 747.5 613.1C749.6 612.3 751.7 611.2 753.8 610.2C755.8 609.3 758.0 608.2 760.0 607.2C762.0 606.3 763.8 605.3 765.6 604.4C767.5 603.5 769.3 602.9 771.2 601.9C773.2 600.8 775.4 599.3 777.5 598.1C779.6 596.9 781.7 595.8 783.8 594.8C785.8 593.7 787.9 592.7 790.0 591.9C792.1 591.0 794.2 590.3 796.2 589.8C798.3 589.2 800.4 589.1 802.5 588.8C804.6 588.4 806.7 587.8 808.8 587.5C810.8 587.2 812.9 587.2 815.0 587.2C817.1 587.3 819.2 587.6 821.2 587.8C823.3 587.9 825.4 587.9 827.5 588.1C829.6 588.4 831.7 588.9 833.8 589.4C835.8 589.9 837.9 590.6 840.0 591.0C842.1 591.4 844.2 591.6 846.2 591.5C848.3 591.4 850.4 591.1 852.5 590.6C854.6 590.2 856.7 589.5 858.8 588.8C860.8 588.0 862.9 587.0 865.0 586.0C867.1 585.0 869.2 583.7 871.2 582.5C873.3 581.3 875.4 579.9 877.5 578.8C879.6 577.6 881.7 576.8 883.8 575.6C885.8 574.5 886.5 574.5 890.0 571.9C893.5 569.3 901.2 562.5 905.0 560.0C908.8 557.5 910.2 558.3 912.5 556.9C914.8 555.4 916.7 553.2 918.8 551.2C920.8 549.3 923.1 546.7 925.0 545.0C926.9 543.3 928.3 542.2 930.0 541.0C931.7 539.8 933.3 538.8 935.0 537.5C936.7 536.2 938.3 534.5 940.0 533.1C941.7 531.8 943.3 530.6 945.0 529.4C946.7 528.1 948.3 526.8 950.0 525.6C951.7 524.5 953.3 523.4 955.0 522.5C956.7 521.6 958.3 521.0 960.0 520.0C961.7 519.0 963.3 517.2 965.0 516.2C966.7 515.2 968.3 514.5 970.0 514.0C971.7 513.5 973.3 513.5 975.0 513.5C976.7 513.5 978.3 513.9 980.0 514.0C981.7 514.1 983.3 514.1 985.0 514.0C986.7 513.9 988.3 513.3 990.0 513.1C991.7 512.9 993.3 513.0 995.0 512.8C996.7 512.5 998.3 512.1 1000.0 511.9C1001.7 511.6 1003.3 511.5 1005.0 511.2C1006.7 511.0 1008.1 510.8 1010.0 510.6C1011.9 510.5 1014.2 510.5 1016.2 510.5C1018.3 510.5 1020.6 510.8 1022.5 510.6C1024.4 510.4 1025.8 510.1 1027.5 509.4C1029.2 508.6 1030.8 507.3 1032.5 506.2C1034.2 505.2 1035.8 504.3 1037.5 503.1C1039.2 502.0 1040.8 500.7 1042.5 499.4C1044.2 498.0 1045.8 496.6 1047.5 495.0C1049.2 493.4 1050.3 492.4 1052.5 490.0C1054.7 487.6 1059.3 482.2 1060.6 480.6" stroke="#1fb8d8" stroke-width="2.25" fill="none" stroke-linejoin="round" stroke-linecap="butt"/><path d="M121.0 686.5C122.1 687.1 125.4 689.1 127.5 690.0C129.6 690.9 131.9 691.2 133.8 691.9C135.6 692.5 137.1 693.2 138.8 693.8C140.4 694.3 141.9 695.1 143.8 695.0C145.6 694.9 147.7 693.6 150.0 693.1C152.3 692.6 155.0 691.9 157.5 691.9C160.0 691.9 162.7 692.6 165.0 693.1C167.3 693.6 169.2 694.1 171.2 695.0C173.3 695.9 175.2 697.6 177.5 698.8C179.8 699.9 182.5 701.1 185.0 701.9C187.5 702.6 190.0 702.6 192.5 703.1C195.0 703.6 197.5 704.4 200.0 704.8C202.5 705.1 205.0 705.1 207.5 705.0C210.0 704.9 212.7 704.5 215.0 704.0C217.3 703.5 219.2 702.5 221.2 701.9C223.3 701.2 225.6 700.8 227.5 700.0C229.4 699.2 230.8 698.0 232.5 696.9C234.2 695.7 235.8 694.1 237.5 693.1C239.2 692.2 240.3 691.8 242.5 691.2C244.7 690.7 247.7 690.5 250.6 689.8C253.5 689.1 257.2 688.0 260.0 686.9C262.8 685.8 265.0 684.4 267.5 683.1C270.0 681.9 272.7 680.4 275.0 679.4C277.3 678.4 279.2 677.8 281.2 677.2C283.3 676.7 285.6 676.3 287.5 676.2C289.4 676.2 290.8 676.5 292.5 676.9C294.2 677.3 295.6 678.0 297.5 678.8C299.4 679.5 301.7 680.6 303.8 681.2C305.8 681.9 307.9 682.4 310.0 682.5C312.1 682.6 314.2 682.4 316.2 681.9C318.3 681.4 320.6 680.3 322.5 679.4C324.4 678.4 325.8 677.4 327.5 676.2C329.2 675.1 330.8 673.8 332.5 672.5C334.2 671.2 335.8 669.8 337.5 668.8C339.2 667.8 340.6 666.9 342.5 666.5C344.4 666.1 346.7 666.5 348.8 666.5C350.8 666.5 352.9 666.5 355.0 666.2C357.1 666.0 359.2 665.1 361.2 665.0C363.3 664.9 365.1 665.3 367.5 665.6C369.9 666.0 373.3 666.5 375.6 667.0C377.9 667.5 379.3 668.1 381.2 668.8C383.2 669.4 385.2 670.0 387.5 670.6C389.8 671.2 392.5 671.8 395.0 672.2C397.5 672.7 400.0 673.0 402.5 673.1C405.0 673.3 407.5 673.3 410.0 673.1C412.5 673.0 415.0 672.5 417.5 672.2C420.0 672.0 422.5 671.6 425.0 671.5C427.5 671.4 430.0 671.2 432.5 671.5C435.0 671.8 437.5 672.6 440.0 673.1C442.5 673.6 445.0 674.2 447.5 674.4C450.0 674.6 452.5 674.5 455.0 674.4C457.5 674.2 460.2 673.7 462.5 673.5C464.8 673.3 466.7 672.8 468.8 673.1C470.8 673.5 472.9 674.9 475.0 675.6C477.1 676.4 479.2 677.5 481.2 677.8C483.3 678.0 485.4 677.3 487.5 676.9C489.6 676.4 491.7 675.8 493.8 675.0C495.8 674.2 497.8 672.9 500.0 671.9C502.2 670.9 504.8 669.7 506.9 669.1C509.0 668.4 510.3 668.6 512.5 668.1C514.7 667.7 517.5 666.8 520.0 666.2C522.5 665.7 525.0 665.5 527.5 665.0C530.0 664.5 532.5 663.8 535.0 663.1C537.5 662.5 540.0 661.4 542.5 661.0C545.0 660.6 547.5 661.2 550.0 661.0C552.5 660.8 555.2 660.2 557.5 660.0C559.8 659.8 561.7 659.8 563.8 660.0C565.8 660.2 567.7 660.8 570.0 661.0C572.3 661.2 575.0 661.3 577.5 661.5C580.0 661.7 582.5 662.2 585.0 662.2C587.5 662.3 590.4 662.2 592.5 661.9C594.6 661.5 595.8 661.1 597.5 660.2C599.2 659.4 600.8 657.9 602.5 656.9C604.2 655.9 605.8 655.3 607.5 654.4C609.2 653.5 610.8 652.6 612.5 651.5C614.2 650.4 615.8 649.0 617.5 647.5C619.2 646.0 620.8 644.1 622.5 642.5C624.2 640.9 625.5 639.8 627.5 638.1C629.5 636.4 632.3 634.0 634.4 632.4C636.5 630.7 638.0 629.1 640.0 628.1C642.0 627.1 644.2 626.8 646.2 626.2C648.3 625.7 650.4 625.1 652.5 624.8C654.6 624.4 656.7 624.3 658.8 624.4C660.8 624.5 662.7 625.0 665.0 625.2C667.3 625.5 670.2 625.8 672.5 626.0C674.8 626.2 676.7 625.9 678.8 626.2C680.8 626.6 683.1 627.7 685.0 628.1C686.9 628.5 688.1 629.0 690.0 628.8C691.9 628.5 694.4 627.6 696.2 626.9C698.1 626.1 699.4 625.1 701.2 624.4C703.1 623.7 705.4 623.3 707.5 622.8C709.6 622.2 711.7 621.7 713.8 621.0C715.8 620.3 717.9 619.4 720.0 618.5C722.1 617.6 724.2 616.6 726.2 615.6C728.3 614.7 730.4 613.6 732.5 612.8C734.6 611.9 736.7 610.9 738.8 610.2C740.8 609.6 743.1 609.5 745.0 608.8C746.9 608.0 748.3 606.7 750.0 605.6C751.7 604.6 753.3 603.5 755.0 602.5C756.7 601.5 758.2 600.6 760.0 599.8C761.8 598.9 763.8 598.3 765.6 597.4C767.5 596.5 769.3 595.6 771.2 594.4C773.2 593.1 775.4 591.4 777.5 590.0C779.6 588.6 781.7 587.2 783.8 586.2C785.8 585.3 788.1 584.8 790.0 584.4C791.9 584.0 793.1 583.7 795.0 584.0C796.9 584.3 799.2 585.5 801.2 586.0C803.3 586.5 805.4 586.4 807.5 586.9C809.6 587.3 811.7 588.0 813.8 588.8C815.8 589.5 817.9 590.7 820.0 591.2C822.1 591.8 824.4 592.2 826.2 592.2C828.1 592.2 829.4 591.2 831.2 591.2C833.1 591.3 835.4 592.3 837.5 592.5C839.6 592.7 841.7 592.6 843.8 592.2C845.8 591.9 847.9 591.5 850.0 590.6C852.1 589.7 854.2 588.3 856.2 586.9C858.3 585.4 860.4 583.8 862.5 581.9C864.6 580.0 866.9 577.4 868.8 575.6C870.6 573.9 872.1 572.6 873.8 571.2C875.4 569.9 877.1 568.4 878.8 567.5C880.4 566.6 881.8 566.4 883.8 565.6C885.7 564.8 888.1 563.9 890.6 562.6C893.1 561.3 896.4 559.2 898.8 557.8C901.1 556.3 902.6 555.5 905.0 553.8C907.4 552.0 910.8 550.0 913.1 547.2C915.4 544.4 917.0 539.7 918.8 536.9C920.5 534.0 922.1 531.8 923.8 530.0C925.4 528.2 927.1 527.4 928.8 526.2C930.4 525.1 932.1 524.6 933.8 523.1C935.4 521.6 936.9 518.2 938.8 517.2C940.6 516.3 942.9 517.4 945.0 517.5C947.1 517.6 949.2 517.9 951.2 517.9C953.3 517.9 955.6 517.9 957.5 517.5C959.4 517.1 960.8 516.4 962.5 515.6C964.2 514.8 965.8 513.6 967.5 512.8C969.2 511.9 970.6 510.4 972.5 510.2C974.4 510.1 976.7 511.5 978.8 511.9C980.8 512.3 983.1 512.9 985.0 512.8C986.9 512.6 988.3 511.4 990.0 511.2C991.7 511.1 993.3 511.7 995.0 511.9C996.7 512.1 998.3 512.6 1000.0 512.5C1001.7 512.4 1003.3 511.4 1005.0 511.0C1006.7 510.6 1008.1 510.2 1010.0 510.0C1011.9 509.8 1014.2 510.2 1016.2 510.0C1018.3 509.8 1020.6 509.5 1022.5 509.0C1024.4 508.5 1025.8 508.0 1027.5 506.9C1029.2 505.8 1030.8 504.3 1032.5 502.5C1034.2 500.7 1035.8 498.5 1037.5 496.2C1039.2 494.0 1040.8 491.5 1042.5 488.8C1044.2 486.0 1045.8 482.9 1047.5 480.0C1049.2 477.1 1050.3 474.7 1052.5 471.2C1054.7 467.8 1059.3 461.4 1060.6 459.4" stroke="#fc95b0" stroke-width="2.25" fill="none" stroke-linejoin="round" stroke-linecap="butt"/></svg>
<span class="t g" style="top:414.87px;font-size:22.60px;color:#ababab;right:962.80px;">4200</span>
<span class="t g" style="top:493.27px;font-size:22.60px;color:#ababab;right:962.80px;">3400</span>
<span class="t g" style="top:585.07px;font-size:22.60px;color:#ababab;right:962.80px;">2600</span>
<span class="t g" style="top:677.07px;font-size:22.60px;color:#ababab;right:962.80px;">1800</span>
<span class="t g" style="top:416.48px;font-size:22.70px;color:#141414;left:970.20px;">4059.07</span>
<span class="t g" style="top:711.98px;font-size:22.70px;color:#141414;left:190.40px;">1614.67</span>
<span class="t g" style="top:739.17px;font-size:22.60px;color:#838383;left:117.60px;">2022/7/8</span>
<span class="t g" style="top:739.17px;font-size:22.60px;color:#838383;left:309.60px;width:0;display:flex;justify-content:center;">2023/3</span>
<span class="t g" style="top:739.17px;font-size:22.60px;color:#838383;left:502.10px;width:0;display:flex;justify-content:center;">2023/11</span>
<span class="t g" style="top:739.17px;font-size:22.60px;color:#838383;left:695.70px;width:0;display:flex;justify-content:center;">2024/7</span>
<span class="t g" style="top:739.17px;font-size:22.60px;color:#838383;left:890.10px;width:0;display:flex;justify-content:center;">2025/3</span>
<span class="t g" style="top:739.17px;font-size:22.60px;color:#7c7c7c;right:19.20px;">2025/10/11</span>
<span class="k" style="left:72.40px;top:758.84px;width:44.80px;height:26.88px;font-size:22.40px;color:#8c8c8c;"><span class="h">成交</span></span>
<span class="t g" style="top:759.87px;font-size:22.60px;color:#9a9a9a;left:136.00px;">VOL: 0</span>
<span class="t g" style="top:759.87px;font-size:22.60px;color:#fc95b0;left:308.40px;">MA5: 0</span>
<span class="t g" style="top:759.87px;font-size:22.60px;color:#1fb8d8;left:482.80px;">MA10: 0</span>
<span class="k" style="left:803.20px;top:729.58px;width:91.50px;height:34.56px;font-size:28.80px;color:#b4b4b4;mix-blend-mode:multiply;"><span class="h" style="letter-spacing:0.059em;">公众号</span></span>
<div class="b" style="left:905.70px;top:743.20px;width:3.60px;height:3.60px;background:#b4b4b4;border-radius:2px;mix-blend-mode:multiply;"></div>
<span class="k" style="left:925.20px;top:729.58px;width:122.00px;height:34.56px;font-size:28.80px;color:#b4b4b4;mix-blend-mode:multiply;"><span class="h" style="letter-spacing:0.059em;">如松平台</span></span>
</body></html>
